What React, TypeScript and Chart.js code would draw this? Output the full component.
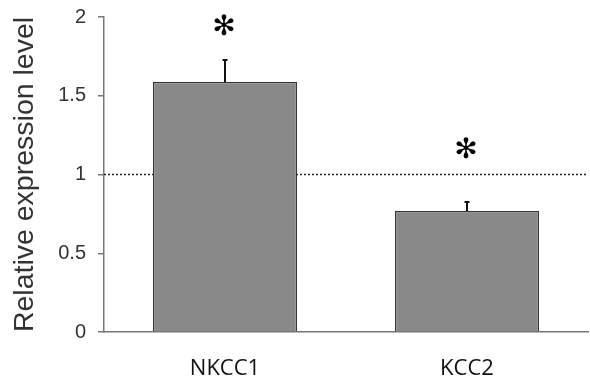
import React, { useEffect, useRef } from "react";
import { Chart, registerables } from "chart.js";

Chart.register(...registerables);

const categories = ["NKCC1", "KCC2"];
const values = [1.587, 0.768];
const errors = [0.14, 0.057];
const sigMarks = ["✻", "✻"];
const sigLevels = [1.93, 1.15];
const referenceLevel = 1;
const yTicks = [0, 0.5, 1, 1.5, 2];
const yTickLabels = ["0", "0.5", "1", "1.5", "2"];
const yTitle = "Relative expression level";

const overlayPlugin = {
  id: "overlay",
  beforeDatasetsDraw(chart: any) {
    const { ctx, chartArea, scales } = chart;
    const y = scales.y.getPixelForValue(referenceLevel);
    ctx.save();
    ctx.strokeStyle = "#222";
    ctx.lineWidth = 1.5;
    ctx.setLineDash([2, 2]);
    ctx.beginPath();
    ctx.moveTo(chartArea.left, y);
    ctx.lineTo(chartArea.right, y);
    ctx.stroke();
    ctx.restore();
  },
  afterDatasetsDraw(chart: any) {
    const { ctx, scales } = chart;
    const meta = chart.getDatasetMeta(0);
    ctx.save();
    meta.data.forEach((bar: any, i: number) => {
      const x = bar.x;
      const yTop = scales.y.getPixelForValue(values[i] + errors[i]);
      const yBase = scales.y.getPixelForValue(values[i]);
      ctx.strokeStyle = "#111";
      ctx.lineWidth = 2;
      ctx.setLineDash([]);
      ctx.beginPath();
      ctx.moveTo(x, yBase);
      ctx.lineTo(x, yTop);
      ctx.moveTo(x - 2.5, yTop);
      ctx.lineTo(x + 2.5, yTop);
      ctx.stroke();
      ctx.fillStyle = "#000";
      ctx.font = "28px 'DejaVu Sans'";
      ctx.textAlign = "center";
      ctx.textBaseline = "middle";
      ctx.fillText(sigMarks[i], x - 1, scales.y.getPixelForValue(sigLevels[i]));
    });
    ctx.restore();
  },
};

export default function App() {
  const ref = useRef<HTMLCanvasElement | null>(null);
  useEffect(() => {
    if (!ref.current) return;
    const chart = new Chart(ref.current, {
      type: "bar",
      data: {
        labels: categories,
        datasets: [
          {
            data: values,
            backgroundColor: "#898989",
            borderColor: "#333",
            borderWidth: 1.2,
            barPercentage: 0.595,
            categoryPercentage: 1,
          },
        ],
      },
      options: {
        animation: false,
        responsive: true,
        maintainAspectRatio: false,
        layout: { padding: { top: 17, right: 2, left: 0, bottom: 0 } },
        plugins: { legend: { display: false }, tooltip: { enabled: false } },
        scales: {
          x: {
            grid: { drawOnChartArea: false, drawTicks: false },
            border: { display: true, color: "#777", width: 1.5 },
            ticks: {
              padding: 24,
              color: "#111",
              font: { family: "'Open Sans'", size: 22 },
            },
            afterFit(scale: any) {
              scale.height = 51;
              scale.paddingLeft = 0;
              scale.paddingRight = 0;
            },
          },
          y: {
            min: 0,
            max: 2,
            afterBuildTicks(scale: any) {
              scale.ticks = yTicks.map((v) => ({ value: v }));
            },
            grid: { drawOnChartArea: false, drawTicks: true, tickLength: 6, color: "#777", lineWidth: 1.5 },
            border: { display: true, color: "#777", width: 1.5 },
            ticks: {
              padding: 12,
              color: "#333",
              font: { family: "'Liberation Sans'", size: 20 },
              callback: (_v: any, i: number) => yTickLabels[i],
            },
            title: {
              display: true,
              text: yTitle,
              color: "#333",
              font: { family: "'Liberation Sans'", size: 28.5 },
              padding: { top: 8, bottom: 0 },
            },
            afterFit(scale: any) {
              scale.width = 104;
              scale.paddingTop = 0;
              scale.paddingBottom = 0;
            },
          },
        },
      },
      plugins: [overlayPlugin],
    });
    return () => chart.destroy();
  }, []);
  return (
    <div style={{ position: "fixed", left: 0, top: 0, width: 590, height: 383, background: "#fff" }}>
      <canvas ref={ref} />
    </div>
  );
}
